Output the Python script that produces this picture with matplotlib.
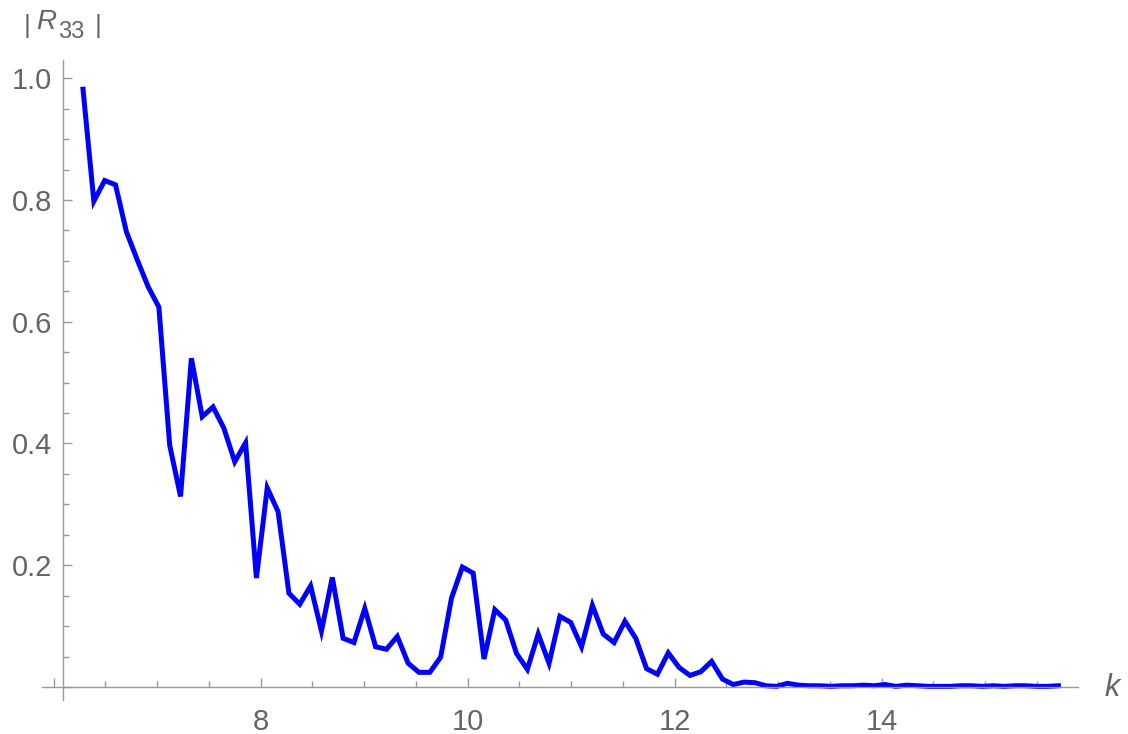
import numpy as np
import matplotlib.pyplot as plt
from matplotlib.ticker import MultipleLocator, FixedLocator

plt.rcParams['font.family'] = ['Liberation Sans', 'DejaVu Sans']

# k runs from 2*pi to 5*pi in steps of pi/30
k_start = 2 * np.pi
k_step = np.pi / 30
r33 = [
    0.982, 0.798, 0.832, 0.825, 0.748, 0.702, 0.658, 0.624, 0.397, 0.313,
    0.540, 0.444, 0.460, 0.425, 0.370, 0.401, 0.179, 0.327, 0.288, 0.154,
    0.136, 0.166, 0.092, 0.180, 0.080, 0.073, 0.129, 0.066, 0.062, 0.083,
    0.039, 0.024, 0.024, 0.049, 0.146, 0.197, 0.187, 0.046, 0.127, 0.110,
    0.055, 0.029, 0.087, 0.039, 0.116, 0.106, 0.066, 0.134, 0.087, 0.073,
    0.108, 0.080, 0.030, 0.021, 0.056, 0.032, 0.019, 0.025, 0.042, 0.013,
    0.004, 0.008, 0.007, 0.002, 0.001, 0.006, 0.003, 0.002, 0.002, 0.001,
    0.002, 0.002, 0.003, 0.002, 0.004, 0.001, 0.003, 0.002, 0.001, 0.001,
    0.001, 0.002, 0.002, 0.001, 0.002, 0.001, 0.002, 0.002, 0.001, 0.001,
    0.002,
]
k = k_start + k_step * np.arange(len(r33))

x_major = [6, 8, 10, 12, 14]
x_labels = ['', '8', '10', '12', '14']
y_major = [0.0, 0.2, 0.4, 0.6, 0.8, 1.0]
y_labels = ['', '0.2', '0.4', '0.6', '0.8', '1.0']

W, H = 1128, 734
fig = plt.figure(figsize=(W / 100, H / 100), dpi=100)
ax = fig.add_axes([42 / W, 34 / H, (1078 - 42) / W, (700 - 60) / H])

ax.plot(k, r33, color='#0000ff', lw=3.6, solid_joinstyle='miter')

ax.set_xlim(5.887, 15.897)
ax.set_ylim(-0.0214, 1.030)

axis_gray = '#9a9a9a'
label_gray = '#656565'
for side in ('top', 'right'):
    ax.spines[side].set_visible(False)
ax.spines['left'].set_position(('data', 6.09))
ax.spines['bottom'].set_position(('data', 0.0))
for side in ('left', 'bottom'):
    ax.spines[side].set_color(axis_gray)
    ax.spines[side].set_linewidth(1.0)

ax.xaxis.set_major_locator(FixedLocator(x_major))
ax.set_xticklabels(x_labels)
ax.xaxis.set_minor_locator(MultipleLocator(0.5))
ax.yaxis.set_major_locator(FixedLocator(y_major))
ax.set_yticklabels(y_labels)
ax.yaxis.set_minor_locator(MultipleLocator(0.05))

ax.tick_params(which='both', direction='in', color=axis_gray, width=1.0,
               labelcolor=label_gray, labelsize=21)
ax.tick_params(which='major', length=6.5)
ax.tick_params(which='minor', length=4.0)
ax.tick_params(axis='x', which='major', pad=15)
ax.tick_params(axis='y', which='major', pad=8)

fig.text(1112 / W, 1 - 688 / H, 'k', style='italic', color=label_gray,
         fontsize=22, ha='center', va='center')

# axis label |R33| built from pieces so the subscript stays large
fig.text(24 / W, 1 - 26 / H, '|', color=label_gray, fontsize=19,
         ha='left', va='center')
fig.text(36 / W, 1 - 22 / H, 'R', style='italic', color=label_gray,
         fontsize=20, ha='left', va='center')
fig.text(58 / W, 1 - 32 / H, '33', color=label_gray, fontsize=17,
         ha='left', va='center')
fig.text(95 / W, 1 - 26 / H, '|', color=label_gray, fontsize=19,
         ha='left', va='center')

fig.savefig('out.png', dpi=100)
